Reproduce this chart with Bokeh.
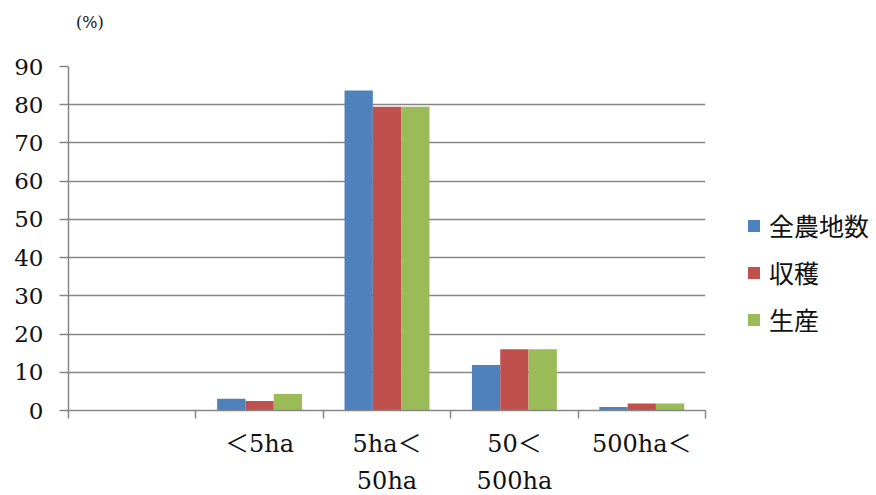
from bokeh.plotting import figure
from bokeh.layouts import column
from bokeh.models import (ColumnDataSource, Range1d, FixedTicker, Legend, LegendItem)
from bokeh.core.properties import value
from bokeh.embed import file_html
from bokeh.resources import INLINE

nan = float("nan")

# Farm-size classes (first slot is left blank on the axis)
categories = ["", "＜5ha", "5ha＜\n50ha", "50＜\n500ha", "500ha＜"]
# Share of each class (%)
farms = [nan, 3.1, 83.7, 11.9, 0.9]        # 全農地数
harvest = [nan, 2.5, 79.5, 16.0, 1.8]      # 収穫
production = [nan, 4.3, 79.5, 16.0, 1.8]   # 生産
series_names = ["全農地数", "収穫", "生産"]
series_colors = ["#4F81BD", "#C0504D", "#9BBB59"]
y_ticks = [0, 10, 20, 30, 40, 50, 60, 70, 80, 90]
unit_label = "(%)"

SERIF = "DejaVu Serif"
CJK = "Noto Sans CJK JP"
GRAY = "#868686"

positions = list(range(1, len(categories) + 1))
bar_w = 1 / 4.5  # three bars plus a 150% gap per category

# Strip above the chart that carries the unit note
header = figure(width=876, height=54, x_range=Range1d(0, 876), y_range=Range1d(0, 54),
                min_border=0, x_axis_location=None, y_axis_location=None,
                output_backend="svg", toolbar_location=None,
                outline_line_color=None, background_fill_color="white",
                border_fill_color="white")
header.grid.visible = False
header.text(x=[33], y=[32], text=[unit_label], text_font=value(SERIF),
            text_font_size="16px", text_color="#111111",
            text_align="left", text_baseline="middle")

p = figure(frame_width=637, frame_height=344,
           min_border_left=68, min_border_right=171,
           min_border_top=12, min_border_bottom=85,
           x_range=Range1d(0.5, 5.5), y_range=Range1d(0, 90),
           output_backend="svg", toolbar_location=None,
           outline_line_color=None, background_fill_color="white",
           border_fill_color="white")

renderers = []
for k, (vals, color) in enumerate(zip([farms, harvest, production], series_colors)):
    offset = (k - 1) * bar_w
    src = ColumnDataSource(dict(x=[x + offset for x in positions], top=vals))
    r = p.vbar(x="x", top="top", width=bar_w, bottom=0, source=src,
               fill_color=color, line_color=None)
    renderers.append(r)

# x axis: labels at category centres, tick marks at category boundaries
xa = p.xaxis[0]
xa.ticker = FixedTicker(ticks=positions,
                        minor_ticks=[x + 0.5 for x in [0] + positions])
xa.major_label_overrides = {pos: lab for pos, lab in zip(positions, categories)}
xa.major_tick_line_color = None
xa.major_tick_out = 0
xa.major_tick_in = 0
xa.minor_tick_line_color = GRAY
xa.minor_tick_out = 8
xa.minor_tick_in = 0
xa.minor_tick_line_width = 1.5
xa.axis_line_color = GRAY
xa.axis_line_width = 1.5
xa.major_label_standoff = 11
xa.major_label_text_font = SERIF + ", " + CJK
xa.major_label_text_font_size = "24px"
xa.major_label_text_line_height = 1.35
xa.major_label_text_color = "#111111"

ya = p.yaxis[0]
ya.ticker = FixedTicker(ticks=y_ticks)
ya.minor_tick_line_color = None
ya.major_tick_line_color = GRAY
ya.major_tick_out = 9
ya.major_tick_in = 0
ya.axis_line_color = GRAY
ya.axis_line_width = 1.5
ya.major_tick_line_width = 1.5
ya.major_label_standoff = 16
ya.major_label_text_font = SERIF
ya.major_label_text_font_size = "23px"
ya.major_label_text_color = "#111111"

p.xgrid.grid_line_color = None
p.ygrid.grid_line_color = GRAY
p.ygrid.grid_line_width = 1.5

legend = Legend(items=[LegendItem(label=n, renderers=[r])
                       for n, r in zip(series_names, renderers)],
                location=(41, 73), orientation="vertical",
                glyph_width=15, glyph_height=15, label_standoff=8,
                label_text_font=CJK, label_text_font_size="25px",
                label_text_color="#111111", spacing=11, padding=0, margin=0,
                border_line_color=None, background_fill_alpha=0)
p.add_layout(legend, "right")

layout = column(header, p, spacing=0)
open("out.html", "w").write(file_html(layout, INLINE))
